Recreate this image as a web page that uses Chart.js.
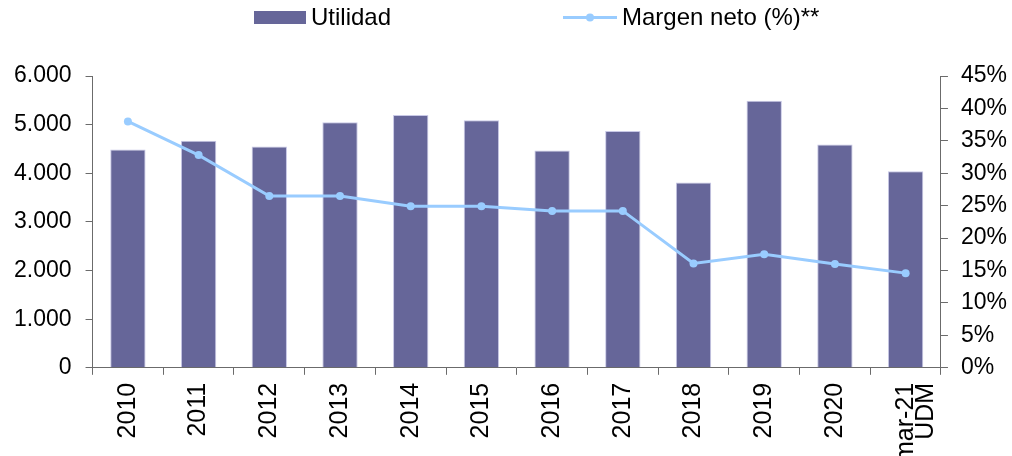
<!DOCTYPE html>
<html>
<head>
<meta charset="utf-8">
<script src="https://cdn.jsdelivr.net/npm/chart.js@4/dist/chart.umd.min.js"></script>
<style>
  body { margin: 0; background: #fff; }
  #wrap { width: 1012px; height: 456px; }
</style>
</head>
<body>
<div id="wrap"><canvas id="myChart"></canvas></div>
<script>
const labels = ["2010","2011","2012","2013","2014","2015","2016","2017","2018","2019","2020",["mar-21","UDM"]];
const utilidad = [4490,4670,4550,5050,5200,5090,4470,4870,3810,5490,4590,4040];
const margen = [38.0,32.8,26.5,26.5,24.9,24.9,24.2,24.2,16.1,17.5,16.0,14.6];
const seriesNames = ["Utilidad","Margen neto (%)**"];
const barColor = "#666699";
const lineColor = "#99ccff";
const axisColor = "#6b6b6b";

Chart.defaults.font.family = '"Liberation Sans", Arial, sans-serif';
Chart.defaults.color = "#000";

function miles(v){
    return String(v).replace(/\B(?=(\d{3})+(?!\d))/g, ".");
}

// legend drawn by hand, to place it like the original
const topLegend = {
    id: "topLegend",
    afterDraw(chart){
        const ctx = chart.ctx;
        ctx.save();
        ctx.font = '24px "Liberation Sans", Arial, sans-serif';
        ctx.textBaseline = "middle";
        ctx.fillStyle = barColor;
        ctx.fillRect(254, 11, 52, 13);
        ctx.fillStyle = "#000";
        ctx.fillText(seriesNames[0], 311, 18);
        ctx.strokeStyle = lineColor;
        ctx.lineWidth = 3;
        ctx.beginPath();
        ctx.moveTo(563, 17.5);
        ctx.lineTo(617, 17.5);
        ctx.stroke();
        ctx.fillStyle = lineColor;
        ctx.beginPath();
        ctx.arc(590, 17.5, 4, 0, Math.PI * 2);
        ctx.fill();
        ctx.fillStyle = "#000";
        ctx.fillText(seriesNames[1], 622, 18);
        ctx.restore();
    }
};

const conf = {
    type: "bar",
    data: {
        labels: labels,
        datasets: [
            {
                label: seriesNames[0],
                data: utilidad,
                yAxisID: "y",
                backgroundColor: barColor,
                borderColor: "#c8c8e6",
                borderWidth: 1,
                barPercentage: 0.5,
                categoryPercentage: 1.0,
                order: 1
            },
            {
                type: "line",
                label: seriesNames[1],
                data: margen,
                yAxisID: "y1",
                borderColor: lineColor,
                backgroundColor: lineColor,
                borderWidth: 3,
                pointRadius: 4,
                pointBackgroundColor: lineColor,
                pointBorderWidth: 0,
                tension: 0,
                order: 0
            }
        ]
    },
    options: {
        responsive: true,
        maintainAspectRatio: false,
        animation: false,
        layout: { padding: { top: 76, left: 0, right: -8, bottom: -14 } },
        plugins: {
            legend: { display: false },
            tooltip: { enabled: false }
        },
        scales: {
            x: {
                grid: { drawOnChartArea: false, drawTicks: true, tickLength: 7, color: axisColor, offset: true },
                border: { display: true, color: axisColor, width: 1 },
                ticks: {
                    minRotation: 90,
                    maxRotation: 90,
                    padding: 8,
                    font: { size: 25, lineHeight: 0.8 },
                    color: "#000"
                }
            },
            y: {
                position: "left",
                min: 0,
                max: 6000,
                ticks: { stepSize: 1000, padding: 14, font: { size: 23 }, callback: v => miles(v) },
                grid: { drawOnChartArea: false, tickLength: 7, color: axisColor },
                border: { display: true, color: axisColor, width: 1 }
            },
            y1: {
                position: "right",
                min: 0,
                max: 45,
                ticks: { stepSize: 5, padding: 13, font: { size: 23 }, callback: v => v + "%" },
                grid: { drawOnChartArea: false, tickLength: 7, color: axisColor },
                border: { display: true, color: axisColor, width: 1 }
            }
        }
    },
    plugins: [topLegend]
};

const ctx = document.getElementById("myChart");
const myChart = new Chart(ctx, conf);
</script>
</body>
</html>
